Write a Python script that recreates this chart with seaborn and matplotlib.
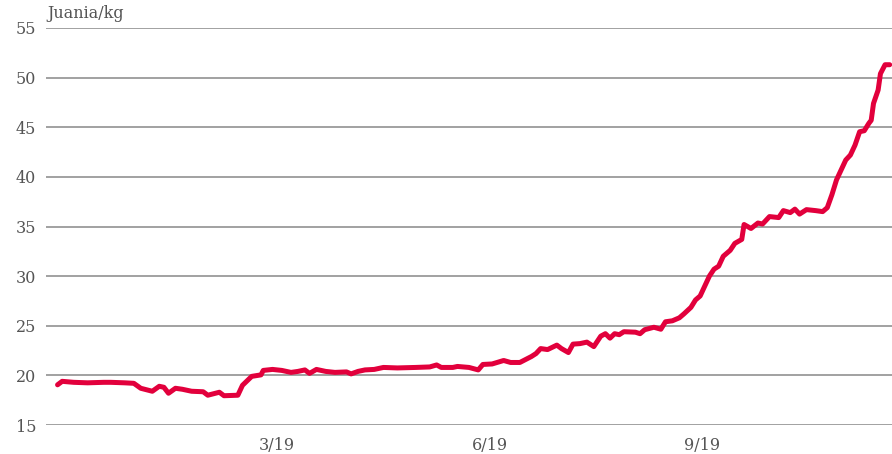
import pandas as pd
import seaborn as sns
import matplotlib.pyplot as plt

# price series
dates = [
    "2018-11-26", "2018-11-28", "2018-12-03", "2018-12-09", "2018-12-16", "2018-12-19",
    "2018-12-25", "2018-12-29", "2019-01-01", "2019-01-06", "2019-01-09", "2019-01-11",
    "2019-01-13", "2019-01-16", "2019-01-19", "2019-01-23", "2019-01-28", "2019-01-30",
    "2019-02-04", "2019-02-06", "2019-02-12", "2019-02-14", "2019-02-18", "2019-02-22",
    "2019-02-23", "2019-02-27", "2019-03-03", "2019-03-07", "2019-03-10", "2019-03-13",
    "2019-03-15", "2019-03-18", "2019-03-22", "2019-03-26", "2019-03-31", "2019-04-02",
    "2019-04-05", "2019-04-08", "2019-04-12", "2019-04-16", "2019-04-22", "2019-04-30",
    "2019-05-06", "2019-05-09", "2019-05-11", "2019-05-16", "2019-05-18", "2019-05-23",
    "2019-05-27", "2019-05-29", "2019-06-02", "2019-06-07", "2019-06-10", "2019-06-14",
    "2019-06-19", "2019-06-21", "2019-06-23", "2019-06-26", "2019-06-30", "2019-07-02",
    "2019-07-05", "2019-07-07", "2019-07-10", "2019-07-13", "2019-07-16", "2019-07-19",
    "2019-07-21", "2019-07-23", "2019-07-25", "2019-07-27", "2019-07-29", "2019-08-03",
    "2019-08-05", "2019-08-07", "2019-08-11", "2019-08-14", "2019-08-16", "2019-08-19",
    "2019-08-22", "2019-08-24", "2019-08-27", "2019-08-29", "2019-08-31", "2019-09-02",
    "2019-09-04", "2019-09-06", "2019-09-08", "2019-09-10", "2019-09-13", "2019-09-15",
    "2019-09-18", "2019-09-19", "2019-09-22", "2019-09-25", "2019-09-27", "2019-09-30",
    "2019-10-04", "2019-10-06", "2019-10-09", "2019-10-11", "2019-10-13", "2019-10-16",
    "2019-10-20", "2019-10-23", "2019-10-25", "2019-10-27", "2019-10-29", "2019-10-31",
    "2019-11-02", "2019-11-04", "2019-11-06", "2019-11-08", "2019-11-10", "2019-11-12",
    "2019-11-13", "2019-11-14", "2019-11-16", "2019-11-17", "2019-11-19", "2019-11-21",
]
prices = [
    19.05, 19.4, 19.3, 19.25, 19.3, 19.3,
    19.25, 19.2, 18.7, 18.4, 18.9, 18.8,
    18.2, 18.7, 18.6, 18.4, 18.35, 18.0,
    18.3, 17.95, 18.0, 19.0, 19.9, 20.05,
    20.5, 20.6, 20.5, 20.3, 20.4, 20.55,
    20.2, 20.6, 20.4, 20.3, 20.35, 20.15,
    20.4, 20.55, 20.6, 20.8, 20.75, 20.8,
    20.85, 21.05, 20.8, 20.8, 20.9, 20.8,
    20.55, 21.1, 21.15, 21.5, 21.3, 21.3,
    21.9, 22.2, 22.7, 22.6, 23.05, 22.7,
    22.3, 23.15, 23.2, 23.35, 22.9, 23.95,
    24.2, 23.75, 24.2, 24.1, 24.4, 24.35,
    24.2, 24.6, 24.85, 24.65, 25.4, 25.5,
    25.8, 26.2, 26.85, 27.6, 28.0, 29.0,
    30.0, 30.7, 31.0, 32.0, 32.6, 33.3,
    33.7, 35.2, 34.8, 35.35, 35.25, 36.0,
    35.9, 36.6, 36.4, 36.75, 36.25, 36.7,
    36.6, 36.5, 36.9, 38.2, 39.7, 40.7,
    41.7, 42.2, 43.2, 44.55, 44.65, 45.4,
    45.7, 47.4, 48.75, 50.4, 51.3, 51.3,
]

tick_dates = ["2019-03-01", "2019-06-01", "2019-09-01"]
tick_labels = ["3/19", "6/19", "9/19"]
y_ticks = [15, 20, 25, 30, 35, 40, 45, 50, 55]
unit_label = "Juania/kg"

sns.set_style("white")
plt.rcParams["font.family"] = ["DejaVu Serif"]

df = pd.DataFrame({"date": pd.to_datetime(dates), "price": prices})

fig = plt.figure(figsize=(8.92, 4.54), dpi=100)
ax = fig.add_axes([46 / 892, 29 / 454, 1 - 46 / 892, 397 / 454])

sns.lineplot(data=df, x="date", y="price", ax=ax, color="#e2003c",
             linewidth=3.6, solid_joinstyle="round", solid_capstyle="round")

ax.set_xlim(pd.Timestamp("2018-11-21"), pd.Timestamp("2019-11-22"))
ax.set_ylim(15, 55)
ax.set_yticks(y_ticks)
ax.set_xticks(pd.to_datetime(tick_dates))
ax.set_xticklabels(tick_labels)
ax.yaxis.grid(True, color="#9a9a9a", linewidth=1.3)
ax.xaxis.grid(False)
ax.set_axisbelow(True)
sns.despine(ax=ax, left=True, bottom=True)
ax.tick_params(axis="both", length=0, labelsize=11.5, colors="#555555")
ax.tick_params(axis="y", pad=7)
ax.tick_params(axis="x", pad=9)
ax.set_xlabel("")
ax.set_ylabel("")

fig.text(47 / 892, 1 - 14 / 454, unit_label, fontsize=11.5, color="#555555",
         va="center", ha="left")

fig.savefig("out.png", dpi=100)
